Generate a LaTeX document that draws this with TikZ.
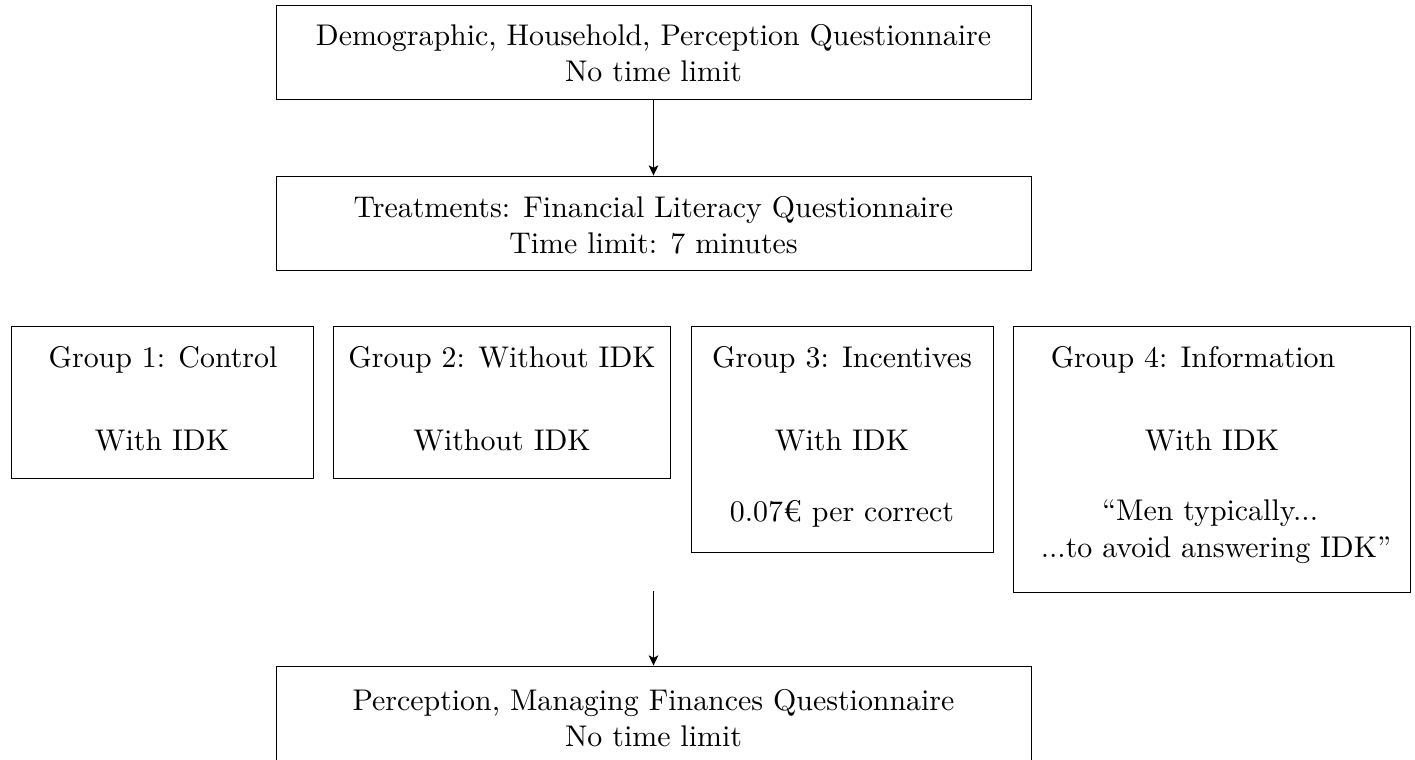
\documentclass[tikz,border=0pt]{standalone}
\usepackage{fontspec}
\setmainfont{Latin Modern Roman}
\usetikzlibrary{fit,arrows.meta}
\tikzset{
  box/.style={draw, line width=0.3pt, inner sep=0pt},
  txt/.style={anchor=base, inner sep=0pt},
  arr/.style={line width=0.5pt, -{Stealth[length=3.4pt,width=3.2pt,inset=0.8pt]}}
}
\begin{document}
\begin{tikzpicture}[x=0.3344pt, y=-0.3344pt]
\clip (0,0) rectangle (1415,759);
\useasboundingbox (0,0) rectangle (1415,759);
% boxes
\node[box, fit={(276,5) (1031,99)}] (top) {};
\node[box, fit={(276,176) (1031,270)}] (mid) {};
\node[box, fit={(11,326) (313,478)}] (g1) {};
\node[box, fit={(333,326) (670,478)}] (g2) {};
\node[box, fit={(691,326) (993,552)}] (g3) {};
\node[box, fit={(1013,326) (1410,592)}] (g4) {};
\node[box, fit={(276,666) (1031,780)}] (bot) {};
% texts
\node[txt] (t1) at (653.5,45) {Demographic, Household, Perception Questionnaire};
\node[txt] (t2) at (653.5,81) {No time limit};
\node[txt] (m1) at (653.5,217) {Treatments: Financial Literacy Questionnaire};
\node[txt] (m2) at (653.5,253) {Time limit: 7 minutes};
\node[txt] (g1a) at (163,367) {Group 1: Control};
\node[txt] (g1b) at (162,450) {With IDK};
\node[txt] (g2a) at (502,367) {Group 2: Without IDK};
\node[txt] (g2b) at (502,450) {Without IDK};
\node[txt] (g3a) at (842,367) {Group 3: Incentives};
\node[txt] (g3b) at (842,450) {With IDK};
\node[txt] (g3c) at (842,521) {0.07€ per correct};
\node[txt] (g4a) at (1193,367) {Group 4: Information};
\node[txt] (g4b) at (1212,450) {With IDK};
\node[txt] (g4c) at (1210,520) {``Men typically...};
\node[txt] (g4d) at (1216,557) {...to avoid answering IDK''};
\node[txt] (b1) at (653.5,710) {Perception, Managing Finances Questionnaire};
\node[txt] (b2) at (653.5,746) {No time limit};
% arrows
\coordinate (a2) at (653.5,591);
\draw[arr] (top.south) -- (mid.north);
\draw[arr] (a2) -- (bot.north);
\end{tikzpicture}
\end{document}
